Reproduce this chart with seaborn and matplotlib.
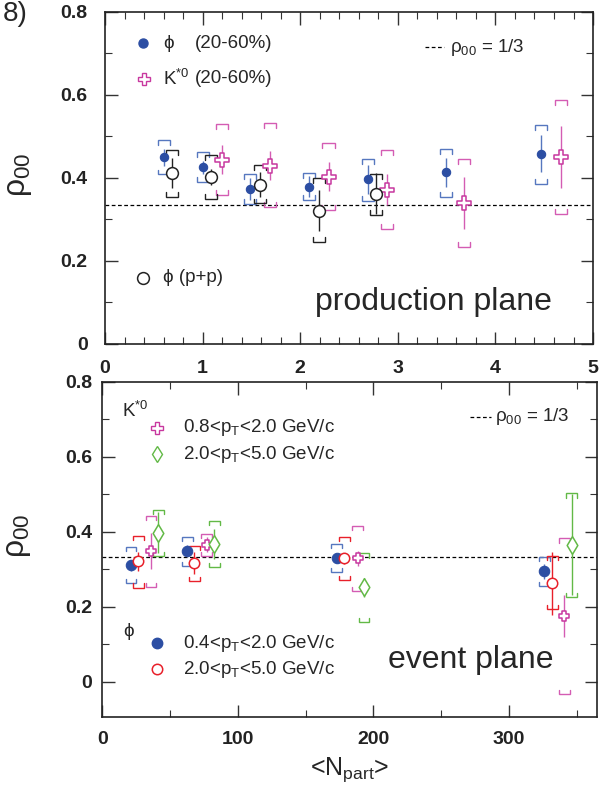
import numpy as np
import pandas as pd
import matplotlib
matplotlib.use("Agg")
import matplotlib.pyplot as plt
import seaborn as sns
from matplotlib.ticker import MultipleLocator, FuncFormatter

# ---------------- data: top panel (production plane) ----------------
phi_x = [0.60, 1.00, 1.49, 2.09, 2.69, 3.49, 4.47]
phi_y = [0.449, 0.425, 0.373, 0.379, 0.396, 0.413, 0.458]
phi_stat = [0.020, 0.015, 0.027, 0.026, 0.036, 0.034, 0.045]
phi_sys_hi = [0.492, 0.462, 0.408, 0.412, 0.446, 0.470, 0.528]
phi_sys_lo = [0.408, 0.389, 0.337, 0.347, 0.343, 0.354, 0.386]

kst_x = [1.195, 1.69, 2.29, 2.886, 3.68, 4.67]
kst_y = [0.444, 0.429, 0.402, 0.371, 0.339, 0.450]
kst_stat = [0.035, 0.035, 0.035, 0.037, 0.063, 0.075]
kst_sys_hi = [0.530, 0.533, 0.484, 0.466, 0.446, 0.587]
kst_sys_lo = [0.359, 0.329, 0.323, 0.276, 0.234, 0.313]

pp_x = [0.69, 1.09, 1.59, 2.19, 2.78]
pp_y = [0.412, 0.402, 0.383, 0.321, 0.362]
pp_stat = [0.036, 0.020, 0.030, 0.050, 0.050]
pp_sys_hi = [0.468, 0.454, 0.430, 0.399, 0.410]
pp_sys_lo = [0.354, 0.350, 0.338, 0.246, 0.311]

# ---------------- data: bottom panel (event plane) ----------------
philo_x = [21.0, 62.6, 172.8, 326.0]
philo_y = [0.310, 0.349, 0.329, 0.295]
philo_stat = [0.015, 0.015, 0.012, 0.020]
philo_sys_hi = [0.360, 0.387, 0.367, 0.333]
philo_sys_lo = [0.264, 0.309, 0.292, 0.255]

phihi_x = [26.4, 67.7, 178.5, 332.0]
phihi_y = [0.321, 0.316, 0.329, 0.262]
phihi_stat = [0.025, 0.030, 0.015, 0.085]
phihi_sys_hi = [0.389, 0.363, 0.387, 0.336]
phihi_sys_lo = [0.251, 0.269, 0.271, 0.193]

klo_x = [35.8, 76.9, 188.3, 340.8]
klo_y = [0.349, 0.365, 0.329, 0.175]
klo_stat = [0.048, 0.020, 0.020, 0.055]
klo_sys_hi = [0.443, 0.394, 0.415, 0.382]
klo_sys_lo = [0.252, 0.335, 0.242, -0.033]

khi_x = [41.2, 82.5, 193.0, 346.3]
khi_y = [0.397, 0.367, 0.252, 0.365]
khi_stat = [0.055, 0.040, 0.025, 0.135]
khi_sys_hi = [0.458, 0.429, 0.342, 0.502]
khi_sys_lo = [0.335, 0.305, 0.160, 0.225]

top_xticks = [0, 1, 2, 3, 4, 5]
yticks = [0, 0.2, 0.4, 0.6, 0.8]
bot_xticks = [0, 100, 200, 300]

# ---------------- style ----------------
sns.set_style("ticks")
plt.rcParams["font.family"] = ["Liberation Sans", "DejaVu Sans"]
plt.rcParams["mathtext.fontset"] = "custom"
plt.rcParams["mathtext.rm"] = "Liberation Sans"
plt.rcParams["mathtext.it"] = "Liberation Sans:italic"
plt.rcParams["mathtext.bf"] = "Liberation Sans:bold"

BLUE = "#2c4ea3"
BLUE_L = "#5677bf"
PINK = "#c8389f"
PINK_L = "#d45cb3"
BLACK = "#222222"
RED = "#e8202a"
GREEN = "#62b946"

fig = plt.figure(figsize=(6.06, 8.0), dpi=100)
ax1 = fig.add_axes([0.1733, 0.5705, 0.8053, 0.4145])
ax2 = fig.add_axes([0.1691, 0.10375, 0.816, 0.4191])


def brackets(ax, x, hi, lo, hw, leg, color):
    for xi, h, l in zip(x, hi, lo):
        ax.plot([xi - hw, xi - hw, xi + hw, xi + hw], [h - leg, h, h, h - leg],
                color=color, lw=1.0, solid_joinstyle="miter", zorder=2)
        ax.plot([xi - hw, xi - hw, xi + hw, xi + hw], [l + leg, l, l, l + leg],
                color=color, lw=1.0, solid_joinstyle="miter", zorder=2)


def series(ax, x, y, stat, hi, lo, color, lcolor, marker, ms, filled, hw, leg):
    brackets(ax, x, hi, lo, hw, leg, lcolor)
    ax.errorbar(x, y, yerr=stat, fmt="none", ecolor=lcolor, elinewidth=1.0,
                capsize=0, zorder=3)
    df = pd.DataFrame({"x": x, "y": y})
    if filled:
        sns.scatterplot(data=df, x="x", y="y", ax=ax, marker=marker, s=ms ** 2,
                        color=color, edgecolor=color, linewidth=0.8, zorder=4,
                        legend=False)
    else:
        sns.scatterplot(data=df, x="x", y="y", ax=ax, marker=marker, s=ms ** 2,
                        color="white", edgecolor=color, linewidth=1.1, zorder=4,
                        legend=False)


# ---------------- top panel ----------------
thw, tleg = 0.062, 0.012
series(ax1, phi_x, phi_y, phi_stat, phi_sys_hi, phi_sys_lo, BLUE, BLUE_L, "o", 6.0, True, thw, tleg)
series(ax1, kst_x, kst_y, kst_stat, kst_sys_hi, kst_sys_lo, PINK, PINK_L, "P", 9.5, False, thw, tleg)
series(ax1, pp_x, pp_y, pp_stat, pp_sys_hi, pp_sys_lo, BLACK, BLACK, "o", 8.5, False, thw, tleg)
ax1.axhline(1 / 3, color="black", lw=0.9, ls=(0, (3, 2)), zorder=1)

ax1.set_xlim(0, 5)
ax1.set_ylim(0, 0.8)
ax1.set_xticks(top_xticks)
ax1.xaxis.set_minor_locator(MultipleLocator(0.2))
ax1.set_yticks(yticks)
ax1.yaxis.set_minor_locator(MultipleLocator(0.1))

# ---------------- bottom panel ----------------
bhw, bleg = 4.0, 0.011
series(ax2, philo_x, philo_y, philo_stat, philo_sys_hi, philo_sys_lo, BLUE, BLUE_L, "o", 7.5, True, bhw, bleg)
series(ax2, phihi_x, phihi_y, phihi_stat, phihi_sys_hi, phihi_sys_lo, RED, RED, "o", 7.5, False, bhw, bleg)
series(ax2, klo_x, klo_y, klo_stat, klo_sys_hi, klo_sys_lo, PINK, PINK_L, "P", 7.5, False, bhw, bleg)
series(ax2, khi_x, khi_y, khi_stat, khi_sys_hi, khi_sys_lo, GREEN, GREEN, "d", 9.0, False, bhw, bleg)
ax2.axhline(1 / 3, color="black", lw=0.9, ls=(0, (3, 2)), zorder=1)

ax2.set_xlim(0, 365)
ax2.set_ylim(-0.094, 0.8)
ax2.set_xticks(bot_xticks)
ax2.xaxis.set_minor_locator(MultipleLocator(50))
ax2.set_yticks(yticks)
ax2.yaxis.set_minor_locator(MultipleLocator(0.1))

fmt = FuncFormatter(lambda v, p: "0" if abs(v) < 1e-9 else f"{v:.1f}")
for ax, ypad, xpad in ((ax1, 12.5, 11.5), (ax2, 7.5, 10)):
    ax.yaxis.set_major_formatter(fmt)
    ax.tick_params(which="both", direction="in", top=True, right=True,
                   color="#333333")
    ax.tick_params(which="major", length=9, width=1.0)
    ax.tick_params(which="minor", length=5, width=0.8)
    ax.tick_params(axis="x", which="major", pad=xpad, labelsize=14)
    ax.tick_params(axis="y", which="major", pad=ypad, labelsize=14)
    for lab in ax.get_xticklabels() + ax.get_yticklabels():
        lab.set_fontweight("bold")
        lab.set_color("#222222")
    for s in ax.spines.values():
        s.set_linewidth(1.2)
        s.set_color("#222222")
    ax.set_xlabel("")
    ax.set_ylabel(r"ρ$_{00}$", fontsize=23)

ax1.yaxis.set_label_coords(-0.145, 0.51)
ax2.yaxis.set_label_coords(-0.14, 0.54)
ax2.set_xlabel(r"<N$_{\mathrm{part}}$>", fontsize=18)
ax2.xaxis.set_label_coords(0.5, -0.115)

# ---------------- legends / annotations ----------------
lt = 13.5
T1 = ax1.transAxes
ax1.plot([0.078], [0.906], "o", ms=6.5, color=BLUE, transform=T1)
ax1.text(0.119, 0.906, "ϕ", fontsize=lt, va="center", transform=T1)
ax1.text(0.185, 0.906, "(20-60%)", fontsize=lt, va="center", transform=T1)
ax1.plot([0.080], [0.798], "P", ms=9, mfc="white", mec=PINK, mew=1.0, transform=T1)
ax1.text(0.119, 0.798, r"K$^{*0}$", fontsize=lt, va="center", transform=T1)
ax1.text(0.185, 0.798, "(20-60%)", fontsize=lt, va="center", transform=T1)
ax1.plot([0.078], [0.198], "o", ms=8.5, mfc="white", mec=BLACK, mew=1.1, transform=T1)
ax1.text(0.119, 0.198, "ϕ (p+p)", fontsize=lt, va="center", transform=T1)
ax1.plot([0.656, 0.694], [0.894, 0.894], color="black", lw=0.9, ls=(0, (3, 2)), transform=T1)
ax1.text(0.706, 0.894, r"ρ$_{00}$ = 1/3", fontsize=lt, va="center", transform=T1)
ax1.text(0.43, 0.125, "production plane", fontsize=23, va="center", transform=T1)

T2 = ax2.transAxes
ax2.text(0.040, 0.913, r"K$^{*0}$", fontsize=lt, va="center", transform=T2)
ax2.plot([0.110], [0.862], "P", ms=8, mfc="white", mec=PINK, mew=1.0, transform=T2)
ax2.text(0.163, 0.862, r"0.8<p$_{\mathrm{T}}$<2.0 GeV/c", fontsize=lt, va="center", transform=T2)
ax2.plot([0.110], [0.784], "d", ms=8.5, mfc="white", mec=GREEN, mew=1.0, transform=T2)
ax2.text(0.163, 0.784, r"2.0<p$_{\mathrm{T}}$<5.0 GeV/c", fontsize=lt, va="center", transform=T2)
ax2.plot([0.743, 0.785], [0.895, 0.895], color="black", lw=0.9, ls=(0, (3, 2)), transform=T2)
ax2.text(0.794, 0.895, r"ρ$_{00}$ = 1/3", fontsize=lt, va="center", transform=T2)
ax2.text(0.052, 0.254, "ϕ", fontsize=lt, va="center", ha="center", transform=T2)
ax2.plot([0.110], [0.22], "o", ms=7.5, color=BLUE, transform=T2)
ax2.text(0.163, 0.22, r"0.4<p$_{\mathrm{T}}$<2.0 GeV/c", fontsize=lt, va="center", transform=T2)
ax2.plot([0.110], [0.143], "o", ms=7.5, mfc="white", mec=RED, mew=1.1, transform=T2)
ax2.text(0.163, 0.143, r"2.0<p$_{\mathrm{T}}$<5.0 GeV/c", fontsize=lt, va="center", transform=T2)
ax2.text(0.577, 0.17, "event plane", fontsize=23, va="center", transform=T2)

fig.text(0.005, 0.982, "8)", fontsize=20, va="center", ha="left")

fig.savefig("out.png", dpi=100)
